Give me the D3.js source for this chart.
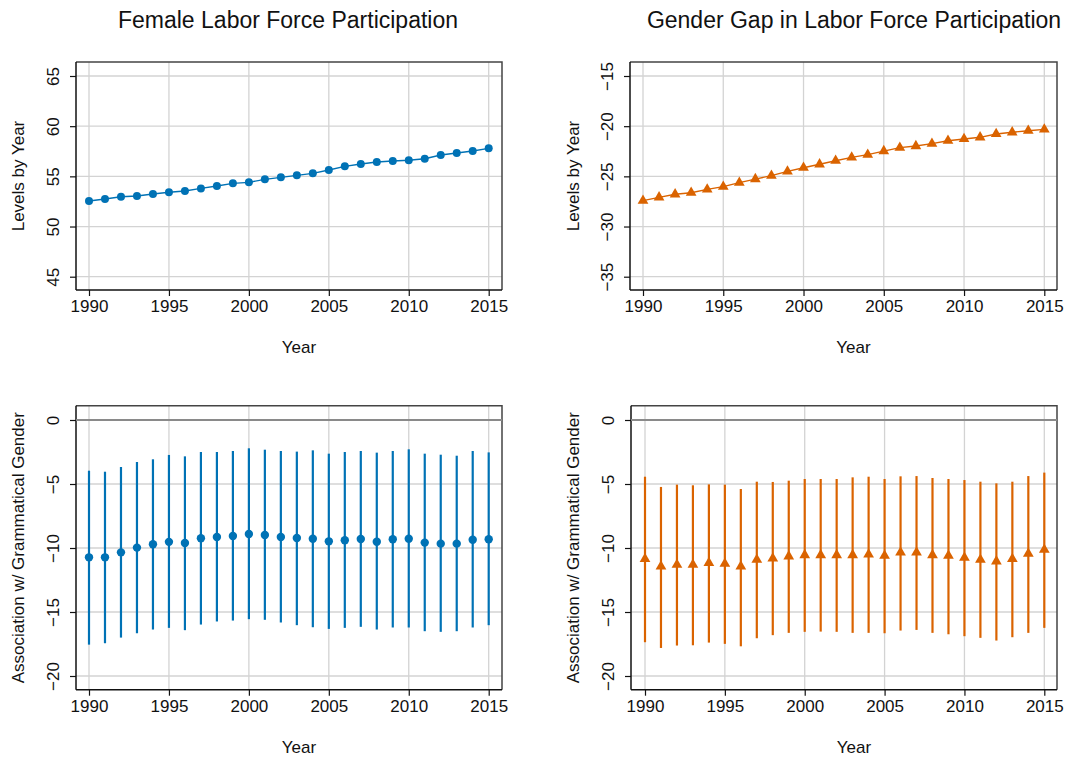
<!DOCTYPE html>
<html>
<head>
<meta charset="utf-8">
<script src="https://cdn.jsdelivr.net/npm/d3@7"></script>
<style>
  html, body { margin: 0; padding: 0; background: #fff; }
  svg { display: block; font-family: "Liberation Sans", Arial, sans-serif; }
</style>
</head>
<body>
<svg id="chart" width="1085" height="758"></svg>
<script>
// ---------- DATA ----------
const years = d3.range(1990, 2016);
const xTicks = [1990, 1995, 2000, 2005, 2010, 2015];

const femaleLFP = [52.54, 52.74, 52.97, 53.04, 53.24, 53.41, 53.54, 53.80, 54.04, 54.30,
                   54.40, 54.70, 54.90, 55.10, 55.30, 55.63, 56.00, 56.23, 56.43, 56.53,
                   56.60, 56.76, 57.13, 57.33, 57.52, 57.79];
const genderGap = [-27.42, -27.09, -26.79, -26.63, -26.30, -26.03, -25.63, -25.27, -24.93, -24.50,
                   -24.14, -23.80, -23.44, -23.11, -22.84, -22.48, -22.14, -21.98, -21.74, -21.45,
                   -21.28, -21.11, -20.78, -20.61, -20.45, -20.32];

const femCoef = [-10.73, -10.73, -10.34, -9.97, -9.71, -9.52, -9.61, -9.24, -9.14, -9.06,
                 -8.91, -8.98, -9.14, -9.22, -9.27, -9.48, -9.40, -9.30, -9.51, -9.32,
                 -9.27, -9.58, -9.66, -9.66, -9.35, -9.32];
const femHi = [-3.96, -4.04, -3.67, -3.28, -3.07, -2.73, -2.84, -2.50, -2.50, -2.42,
               -2.21, -2.32, -2.42, -2.47, -2.37, -2.63, -2.50, -2.42, -2.55, -2.42,
               -2.29, -2.63, -2.71, -2.79, -2.42, -2.53];
const femLo = [-17.55, -17.44, -17.00, -16.66, -16.37, -16.24, -16.42, -15.98, -15.74, -15.67,
               -15.56, -15.61, -15.82, -16.03, -16.19, -16.32, -16.24, -16.16, -16.37, -16.21,
               -16.21, -16.50, -16.55, -16.50, -16.21, -16.03];

const gapCoef = [-10.86, -11.44, -11.30, -11.30, -11.17, -11.23, -11.44, -10.91, -10.81, -10.65,
                 -10.55, -10.55, -10.55, -10.55, -10.50, -10.60, -10.34, -10.34, -10.55, -10.60,
                 -10.76, -10.91, -11.04, -10.86, -10.44, -10.13];
const gapHi = [-4.43, -5.23, -5.05, -5.10, -5.03, -5.05, -5.39, -4.82, -4.84, -4.74,
               -4.61, -4.61, -4.61, -4.48, -4.43, -4.61, -4.40, -4.38, -4.53, -4.61,
               -4.69, -4.82, -4.95, -4.82, -4.38, -4.11];
const gapLo = [-17.36, -17.81, -17.62, -17.60, -17.39, -17.49, -17.68, -17.05, -16.81, -16.63,
               -16.55, -16.53, -16.55, -16.63, -16.63, -16.66, -16.45, -16.40, -16.63, -16.74,
               -16.89, -17.02, -17.23, -16.97, -16.63, -16.24];

const yTicksFem = [45, 50, 55, 60, 65];
const yTicksGap = [-35, -30, -25, -20, -15];
const yTicksCoef = [-20, -15, -10, -5, 0];

const titles = ["Female Labor Force Participation", "Gender Gap in Labor Force Participation"];
const yLabelTop = "Levels by Year";
const yLabelBottom = "Association w/ Grammatical Gender";
const xLabel = "Year";

// ---------- STYLE ----------
const BLUE = "#0072B5";
const ORANGE = "#DA6300";
const GRID = "#d3d3d3";
const FS = 17;

const svg = d3.select("#chart");

// titles
svg.append("text").attr("x", 288).attr("y", 28).attr("text-anchor", "middle")
  .attr("font-size", 23).attr("fill", "#111").text(titles[0]);
svg.append("text").attr("x", 854).attr("y", 28).attr("text-anchor", "middle")
  .attr("font-size", 23).attr("fill", "#111").text(titles[1]);

function panel(cfg) {
  const { frame, x0, x1, yDom, yRng, yTicks, yLabel, yLabelX } = cfg;
  const g = svg.append("g");
  const x = d3.scaleLinear().domain([1990, 2015]).range([x0, x1]);
  const y = d3.scaleLinear().domain(yDom).range(yRng);

  // gridlines
  g.append("g").selectAll("line").data(xTicks).join("line")
    .attr("x1", d => x(d)).attr("x2", d => x(d))
    .attr("y1", frame.top).attr("y2", frame.bottom)
    .attr("stroke", GRID).attr("stroke-width", 1.3);
  g.append("g").selectAll("line").data(yTicks).join("line")
    .attr("x1", frame.left).attr("x2", frame.right)
    .attr("y1", d => y(d)).attr("y2", d => y(d))
    .attr("stroke", GRID).attr("stroke-width", 1.3);

  // frame top/right
  g.append("path")
    .attr("d", `M${frame.left},${frame.top}H${frame.right}V${frame.bottom}`)
    .attr("fill", "none").attr("stroke", "#444").attr("stroke-width", 1.5);

  // x axis
  const xAxis = d3.axisBottom(x).tickValues(xTicks).tickFormat(d3.format("d"))
    .tickSize(6).tickPadding(4);
  const xg = g.append("g").attr("transform", `translate(0,${frame.bottom})`).call(xAxis);
  xg.select(".domain").attr("d", `M${frame.left},0H${frame.right}`)
    .attr("stroke", "#111").attr("stroke-width", 1.5);
  xg.selectAll(".tick line").attr("stroke", "#111").attr("stroke-width", 1.2);
  xg.selectAll(".tick text").attr("font-size", FS).attr("fill", "#111")
    .attr("font-family", "Liberation Sans, Arial, sans-serif");

  // y axis
  const yAxis = d3.axisLeft(y).tickValues(yTicks).tickFormat(d3.format("d"))
    .tickSize(6).tickPadding(4);
  const yg = g.append("g").attr("transform", `translate(${frame.left},0)`).call(yAxis);
  yg.select(".domain").attr("d", `M0,${frame.top}V${frame.bottom}`)
    .attr("stroke", "#111").attr("stroke-width", 1.5);
  yg.selectAll(".tick line").attr("stroke", "#111").attr("stroke-width", 1.2);
  yg.selectAll(".tick text")
    .attr("font-size", FS).attr("fill", "#111")
    .attr("font-family", "Liberation Sans, Arial, sans-serif")
    .attr("text-anchor", "middle")
    .attr("x", null).attr("dy", null)
    .attr("transform", "translate(-17,0) rotate(-90)");

  // axis titles
  g.append("text")
    .attr("x", (frame.left + frame.right) / 2 + 10).attr("y", frame.bottom + 63)
    .attr("text-anchor", "middle").attr("font-size", FS).attr("fill", "#111").text(xLabel);
  g.append("text")
    .attr("transform", `translate(${yLabelX},${(frame.top + frame.bottom) / 2}) rotate(-90)`)
    .attr("text-anchor", "middle").attr("font-size", FS).attr("fill", "#111").text(yLabel);

  return { g, x, y };
}

const symTri = d3.symbol().type(d3.symbolTriangle).size(50);

// ---------- TOP LEFT ----------
{
  const frame = { left: 76, right: 502, top: 62, bottom: 290 };
  const { g, x, y } = panel({ frame, x0: 89, x1: 488.7, yDom: [65, 45], yRng: [76, 276.7],
    yTicks: yTicksFem, yLabel: yLabelTop, yLabelX: 24 });
  g.append("path").datum(femaleLFP)
    .attr("d", d3.line().x((d, i) => x(years[i])).y(d => y(d)))
    .attr("fill", "none").attr("stroke", BLUE).attr("stroke-width", 1.4);
  g.append("g").selectAll("circle").data(femaleLFP).join("circle")
    .attr("cx", (d, i) => x(years[i])).attr("cy", d => y(d)).attr("r", 4)
    .attr("fill", BLUE);
}

// ---------- TOP RIGHT ----------
{
  const frame = { left: 630, right: 1057, top: 62, bottom: 290 };
  const { g, x, y } = panel({ frame, x0: 643, x1: 1044.3, yDom: [-15, -35], yRng: [76, 276.7],
    yTicks: yTicksGap, yLabel: yLabelTop, yLabelX: 579 });
  g.append("path").datum(genderGap)
    .attr("d", d3.line().x((d, i) => x(years[i])).y(d => y(d)))
    .attr("fill", "none").attr("stroke", ORANGE).attr("stroke-width", 1.4);
  g.append("g").selectAll("path").data(genderGap).join("path")
    .attr("transform", (d, i) => `translate(${x(years[i])},${y(d)})`)
    .attr("d", symTri).attr("fill", ORANGE);
}

// ---------- BOTTOM LEFT ----------
{
  const frame = { left: 76, right: 502, top: 405.7, bottom: 689.7 };
  const { g, x, y } = panel({ frame, x0: 89, x1: 488.7, yDom: [0, -20], yRng: [420, 676],
    yTicks: yTicksCoef, yLabel: yLabelBottom, yLabelX: 24 });
  g.append("line").attr("x1", frame.left).attr("x2", frame.right)
    .attr("y1", y(0)).attr("y2", y(0)).attr("stroke", "#8a8a8a").attr("stroke-width", 2);
  g.append("g").selectAll("line").data(years).join("line")
    .attr("x1", d => x(d)).attr("x2", d => x(d))
    .attr("y1", (d, i) => y(femLo[i])).attr("y2", (d, i) => y(femHi[i]))
    .attr("stroke", BLUE).attr("stroke-width", 2.2);
  g.append("g").selectAll("circle").data(femCoef).join("circle")
    .attr("cx", (d, i) => x(years[i])).attr("cy", d => y(d)).attr("r", 4.2)
    .attr("fill", BLUE);
}

// ---------- BOTTOM RIGHT ----------
{
  const frame = { left: 631, right: 1057, top: 405.7, bottom: 689.7 };
  const { g, x, y } = panel({ frame, x0: 645, x1: 1044.3, yDom: [0, -20], yRng: [420, 676],
    yTicks: yTicksCoef, yLabel: yLabelBottom, yLabelX: 579 });
  g.append("line").attr("x1", frame.left).attr("x2", frame.right)
    .attr("y1", y(0)).attr("y2", y(0)).attr("stroke", "#8a8a8a").attr("stroke-width", 2);
  g.append("g").selectAll("line").data(years).join("line")
    .attr("x1", d => x(d)).attr("x2", d => x(d))
    .attr("y1", (d, i) => y(gapLo[i])).attr("y2", (d, i) => y(gapHi[i]))
    .attr("stroke", ORANGE).attr("stroke-width", 2.2);
  g.append("g").selectAll("path").data(gapCoef).join("path")
    .attr("transform", (d, i) => `translate(${x(years[i])},${y(d)})`)
    .attr("d", symTri).attr("fill", ORANGE);
}
</script>
</body>
</html>
